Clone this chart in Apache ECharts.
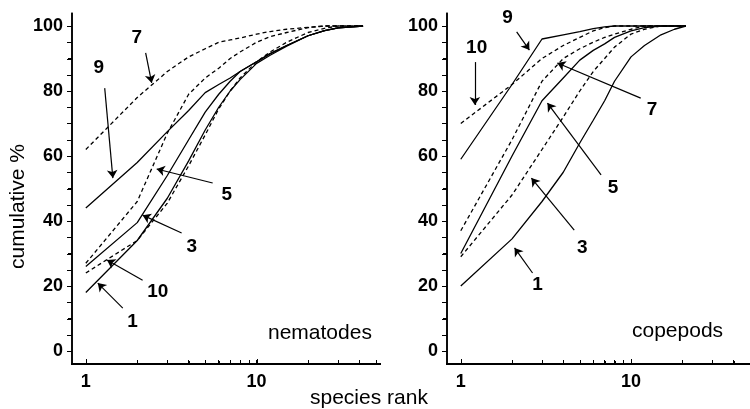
<!DOCTYPE html>
<html><head><meta charset="utf-8">
<script src="https://cdn.jsdelivr.net/npm/echarts@6/dist/echarts.min.js"></script>
<style>html,body{margin:0;padding:0;background:#fff}#chart{width:750px;height:409px}</style>
</head><body><div id="chart"></div>
<script>
// ---- data ----
const nemRanks = [1, 2, 3, 4, 5, 6, 7, 8, 10, 12, 15, 20, 25, 30, 42];
const nem1  = [18, 34, 47, 58.5, 68, 75, 80, 83.5, 88.5, 91, 93.8, 97, 98.6, 99.4, 100];
const nem3  = [26, 39.5, 54, 65, 73.5, 79, 83, 86, 89, 91.5, 94, 97, 98.6, 99.4, 100];
const nem5  = [27, 46, 67, 79, 84, 87, 90, 92, 95, 96.7, 98, 99.5, 100, 100, 100];
const nem7  = [62, 78, 86, 90.5, 93, 95, 95.7, 96.3, 97.5, 98.3, 99, 99.6, 100, 100, 100];
const nem9  = [44, 58, 67.5, 74, 79.5, 82, 84, 86, 89, 91.5, 94, 97, 98.6, 99.4, 100];
const nem10 = [24, 34, 45.5, 57, 66.5, 74.5, 80, 84, 89, 92, 95, 98, 99.3, 100, 100];

const copRanks = [1, 2, 3, 4, 5, 6, 7, 8, 10, 12, 15, 18, 21];
const cop1  = [20, 34.5, 46, 55, 64, 71, 77, 83, 90.5, 94, 97.3, 99, 100];
const cop3  = [29, 48, 62, 72, 80, 86, 90, 93.5, 97.5, 99, 100, 100, 100];
const cop5  = [30, 60, 77, 84, 89.5, 92.5, 94.5, 96.5, 98.5, 99.5, 100, 100, 100];
const cop7  = [37, 65, 83, 90, 93, 95, 96.5, 97.5, 99, 100, 100, 100, 100];
const cop9  = [59, 82, 96, 97.3, 98.3, 99.2, 99.7, 100, 100, 100, 100, 100, 100];
const cop10 = [70, 82, 90, 94, 96.5, 98.5, 99.5, 100, 100, 100, 100, 100, 100];

const yTickValues = [0,5,10,15,20,25,30,35,40,45,50,55,60,65,70,75,80,85,90,95,100];
const yLabelValues = [0, 20, 40, 60, 80, 100];
const xTickValues = [1,2,3,4,5,6,7,8,9,10,20,30,40,50];
const xLabelValues = [1, 10];

// annotations: [label, labelRank, labelValue]
const nemLabels = [['7',1.99,96.3],['9',1.19,87.1],['5',6.68,48],['3',4.17,32],['10',2.64,18.2],['1',1.88,8.9]];
const copLabels = [['9',1.88,102.5],['10',1.24,93.2],['7',13.3,74.2],['5',7.85,50.2],['3',5.17,31.7],['1',2.82,20.3]];
// arrows: [fromRank, fromValue, toRank, toValue]
const nemArrows = [[2.24,91.7,2.43,82.5],[1.29,80.9,1.44,53.2],[5.53,51.7,2.6,56],[3.64,36.3,2.15,41.8],[2.15,21.8,1.33,28],[1.646,13.2,1.175,20.9]];
const copArrows = [[2.13,98.2,2.53,92.6],[1.21,88.9,1.21,75.7],[11.4,77.8,3.69,88.6],[6.67,54.2,3.23,76.3],[4.64,37.2,2.6,53.2],[2.64,24,2.07,31.7]];

// ---- chart ----
const FONT = 'Liberation Sans, Arial, Helvetica, sans-serif';
const X_MIN = 0.83, X_MAX = 50, Y_MIN = -4, Y_MAX = 104;
function mkX(gi){
  return {type:'log', logBase:10, gridIndex:gi, min:X_MIN, max:X_MAX,
    axisLine:{show:true, onZero:false, lineStyle:{color:'#000', width:2}},
    axisTick:{show:true, inside:true, length:4, customValues:xTickValues, lineStyle:{color:'#000', width:1}},
    minorTick:{show:false},
    axisLabel:{customValues:xLabelValues, color:'#000', fontSize:18, fontWeight:'bold', fontFamily:FONT, margin:9},
    splitLine:{show:false}};
}
function mkY(gi){
  return {type:'value', gridIndex:gi, min:Y_MIN, max:Y_MAX,
    axisLine:{show:true, onZero:false, lineStyle:{color:'#000', width:1.5}},
    axisTick:{show:true, inside:false, length:4, customValues:yTickValues, lineStyle:{color:'#000', width:1}},
    axisLabel:{customValues:yLabelValues, color:'#000', fontSize:18, fontWeight:'bold', fontFamily:FONT, margin:9},
    splitLine:{show:false}};
}
function mkSeries(gi, ranks, vals, dashed){
  return {type:'line', xAxisIndex:gi, yAxisIndex:gi, symbol:'none', silent:true,
    data: ranks.map((r,i)=>[r, vals[i]]),
    lineStyle:{color:'#000', width:1.3, type: dashed ? [4,3] : 'solid'}};
}
function mkAnno(gi, labels, arrows){
  return {type:'line', xAxisIndex:gi, yAxisIndex:gi, symbol:'none', silent:true, data:[],
    markLine:{silent:true, animation:false, symbol:['none','arrow'], symbolSize:8,
      label:{show:false}, lineStyle:{color:'#000', width:1.2, type:'solid'},
      emphasis:{disabled:true},
      data: arrows.map(a=>[{coord:[a[0],a[1]]},{coord:[a[2],a[3]]}])},
    markPoint:{silent:true, animation:false, symbol:'circle', symbolSize:1, itemStyle:{color:'rgba(0,0,0,0)'},
      label:{show:true, position:'inside', color:'#000', fontSize:19, fontWeight:'bold', fontFamily:FONT, formatter:p=>p.name},
      data: labels.map(l=>({name:l[0], coord:[l[1],l[2]]}))}
  };
}
const myChart = echarts.init(document.getElementById('chart'));
myChart.setOption({
  animation:false,
  backgroundColor:'#fff',
  grid:[{left:72, top:13, width:304, height:351},{left:447, top:13, width:303, height:351}],
  xAxis:[mkX(0), mkX(1)],
  yAxis:[mkY(0), mkY(1)],
  series:[
    mkSeries(0,nemRanks,nem1,false), mkSeries(0,nemRanks,nem3,false), mkSeries(0,nemRanks,nem5,true),
    mkSeries(0,nemRanks,nem7,true), mkSeries(0,nemRanks,nem9,false), mkSeries(0,nemRanks,nem10,true),
    mkSeries(1,copRanks,cop1,false), mkSeries(1,copRanks,cop3,true), mkSeries(1,copRanks,cop5,false),
    mkSeries(1,copRanks,cop7,true), mkSeries(1,copRanks,cop9,false), mkSeries(1,copRanks,cop10,true),
    mkAnno(0,nemLabels,nemArrows), mkAnno(1,copLabels,copArrows)
  ]
});

// axis lines and ticks, positioned through the chart's own scales
const gfx = [
  {type:'text', left:310, top:388, style:{text:'species rank', fill:'#000', font:'21px '+FONT}},
  {type:'text', x:8, y:269, rotation:Math.PI/2, style:{text:'cumulative %', fill:'#000', font:'21px '+FONT}},
  {type:'text', left:268, top:323, style:{text:'nematodes', fill:'#000', font:'21px '+FONT}},
  {type:'text', left:632, top:321, style:{text:'copepods', fill:'#000', font:'21px '+FONT}}
];
[0, 1].forEach(gi => {
  const px = (x, y) => myChart.convertToPixel({gridIndex: gi}, [x, y]);
  const bl = px(X_MIN, Y_MIN), tl = px(X_MIN, Y_MAX), br = px(X_MAX, Y_MIN);
  const ax = Math.round(bl[0]), ay = Math.round(bl[1]);
  gfx.push({type:'line', z:50, shape:{x1:ax, y1:Math.round(tl[1]), x2:ax, y2:ay}, style:{stroke:'#000', lineWidth:1.6}});
  gfx.push({type:'line', z:50, shape:{x1:ax - 1, y1:ay, x2:Math.round(br[0]) + 5, y2:ay}, style:{stroke:'#000', lineWidth:2}});
  yTickValues.forEach(v => {
    const p = px(X_MIN, v); const y = Math.round(p[1]) + 0.5;
    gfx.push({type:'line', z:50, shape:{x1:ax - 5, y1:y, x2:ax, y2:y}, style:{stroke:'#000', lineWidth:1}});
  });
  xTickValues.forEach(v => {
    const p = px(v, Y_MIN); const x = Math.round(p[0]) + 0.5;
    const len = xLabelValues.indexOf(v) >= 0 ? 5 : 3;
    gfx.push({type:'line', z:50, shape:{x1:x, y1:ay, x2:x, y2:ay - len}, style:{stroke:'#000', lineWidth:1}});
  });
});
myChart.setOption({graphic: gfx});
</script></body></html>
